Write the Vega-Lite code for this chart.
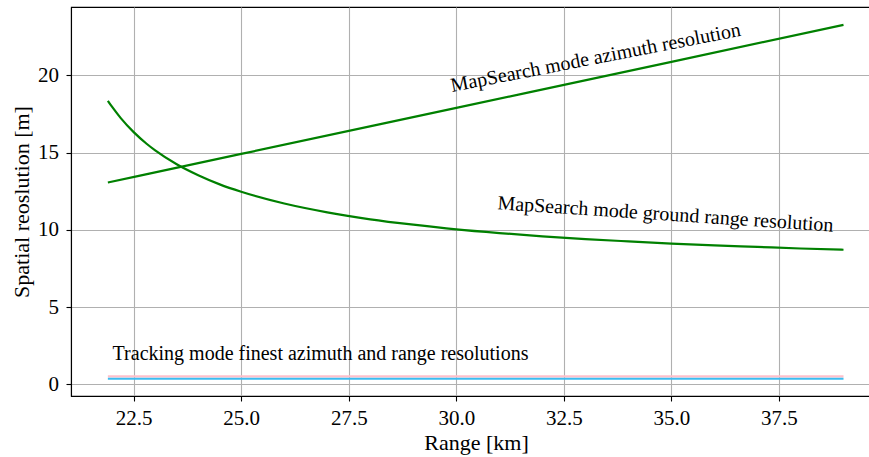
{
  "$schema": "https://vega.github.io/schema/vega-lite/v6.json",
  "autosize": "none",
  "width": 799,
  "height": 389,
  "padding": {"left": 71, "top": 7, "right": 0, "bottom": 61},
  "background": "white",
  "config": {
    "font": "Liberation Serif",
    "view": {"stroke": "black", "strokeWidth": 1.1},
    "style": {
      "guide-label": {"font": "Liberation Serif", "fontSize": 21, "fill": "black"},
      "guide-title": {"font": "Liberation Serif", "fontSize": 22, "fill": "black", "fontWeight": "normal"}
    },
    "axis": {
      "labelFont": "Liberation Serif",
      "titleFont": "Liberation Serif",
      "labelFontSize": 21,
      "titleFontSize": 22,
      "labelColor": "black",
      "titleColor": "black",
      "titleFontWeight": "normal",
      "domainColor": "black",
      "domainWidth": 1.1,
      "tickColor": "black",
      "tickWidth": 1.1,
      "tickSize": 5,
      "gridColor": "#b0b0b0",
      "gridWidth": 1.1
    }
  },
  "datasets": {
    "curves": [
      {"s": "az", "r": 21.9, "v": 13.06},
      {"s": "az", "r": 25.0, "v": 14.91},
      {"s": "az", "r": 30.0, "v": 17.89},
      {"s": "az", "r": 35.0, "v": 20.87},
      {"s": "az", "r": 39.0, "v": 23.26},
      {"s": "gr", "r": 21.9, "v": 18.35},
      {"s": "gr", "r": 22.0, "v": 17.95},
      {"s": "gr", "r": 22.2, "v": 17.23},
      {"s": "gr", "r": 22.5, "v": 16.32},
      {"s": "gr", "r": 22.8, "v": 15.57},
      {"s": "gr", "r": 23.0, "v": 15.14},
      {"s": "gr", "r": 23.5, "v": 14.24},
      {"s": "gr", "r": 24.0, "v": 13.53},
      {"s": "gr", "r": 24.5, "v": 12.94},
      {"s": "gr", "r": 25.0, "v": 12.46},
      {"s": "gr", "r": 26.0, "v": 11.70},
      {"s": "gr", "r": 27.0, "v": 11.13},
      {"s": "gr", "r": 28.0, "v": 10.68},
      {"s": "gr", "r": 29.0, "v": 10.33},
      {"s": "gr", "r": 30.0, "v": 10.03},
      {"s": "gr", "r": 31.0, "v": 9.79},
      {"s": "gr", "r": 32.0, "v": 9.58},
      {"s": "gr", "r": 33.0, "v": 9.40},
      {"s": "gr", "r": 34.0, "v": 9.25},
      {"s": "gr", "r": 35.0, "v": 9.11},
      {"s": "gr", "r": 36.0, "v": 8.99},
      {"s": "gr", "r": 37.0, "v": 8.89},
      {"s": "gr", "r": 38.0, "v": 8.79},
      {"s": "gr", "r": 39.0, "v": 8.71},
      {"s": "tr_range", "r": 21.9, "v": 0.51},
      {"s": "tr_range", "r": 39.0, "v": 0.51},
      {"s": "tr_az", "r": 21.9, "v": 0.36},
      {"s": "tr_az", "r": 39.0, "v": 0.36}
    ]
  },
  "layer": [
    {
      "data": {"name": "curves"},
      "mark": {"type": "line", "interpolate": "monotone", "strokeWidth": 2.2, "clip": true},
      "encoding": {
        "x": {
          "field": "r", "type": "quantitative",
          "scale": {"domain": [21.043, 39.616], "nice": false, "zero": false},
          "axis": {
            "title": "Range [km]",
            "values": [22.5, 25, 27.5, 30, 32.5, 35, 37.5],
            "format": ".1f",
            "labelFont": "Liberation Serif",
            "titleFont": "Liberation Serif",
            "labelFontSize": 21,
            "titleFontSize": 22,
            "labelBaseline": "alphabetic",
            "labelPadding": 23,
            "titleX": 405,
            "titleY": 53,
            "titleAnchor": null,
            "titleAlign": "center",
            "titleBaseline": "alphabetic"
          }
        },
        "y": {
          "field": "v", "type": "quantitative",
          "scale": {"domain": [-0.757, 24.42], "nice": false, "zero": false},
          "axis": {
            "title": "Spatial reoslution [m]",
            "values": [0, 5, 10, 15, 20],
            "labelFont": "Liberation Serif",
            "titleFont": "Liberation Serif",
            "labelFontSize": 21,
            "titleFontSize": 22,
            "labelPadding": 7.5,
            "titleX": -43,
            "titleBaseline": "alphabetic"
          }
        },
        "color": {
          "field": "s", "type": "nominal",
          "scale": {"domain": ["az", "gr", "tr_range", "tr_az"], "range": ["#008000", "#008000", "#ffc0cb", "#3bbcf0"]},
          "legend": null
        },
        "order": {"field": "r", "type": "quantitative"}
      }
    },
    {
      "data": {"values": [{"label": "MapSearch mode azimuth resolution", "r": 29.9, "v": 18.92}]},
      "mark": {"type": "text", "angle": 349, "align": "left", "baseline": "alphabetic", "fontSize": 20, "font": "Liberation Serif", "color": "black"},
      "encoding": {
        "x": {"field": "r", "type": "quantitative"},
        "y": {"field": "v", "type": "quantitative"},
        "text": {"field": "label"}
      }
    },
    {
      "data": {"values": [{"label": "MapSearch mode ground range resolution", "r": 30.95, "v": 11.33}]},
      "mark": {"type": "text", "angle": 3.8, "align": "left", "baseline": "alphabetic", "fontSize": 20, "font": "Liberation Serif", "color": "black"},
      "encoding": {
        "x": {"field": "r", "type": "quantitative"},
        "y": {"field": "v", "type": "quantitative"},
        "text": {"field": "label"}
      }
    },
    {
      "data": {"values": [{"label": "Tracking mode finest azimuth and range resolutions", "r": 22.01, "v": 1.57}]},
      "mark": {"type": "text", "align": "left", "baseline": "alphabetic", "fontSize": 20, "font": "Liberation Serif", "color": "black"},
      "encoding": {
        "x": {"field": "r", "type": "quantitative"},
        "y": {"field": "v", "type": "quantitative"},
        "text": {"field": "label"}
      }
    }
  ]
}
